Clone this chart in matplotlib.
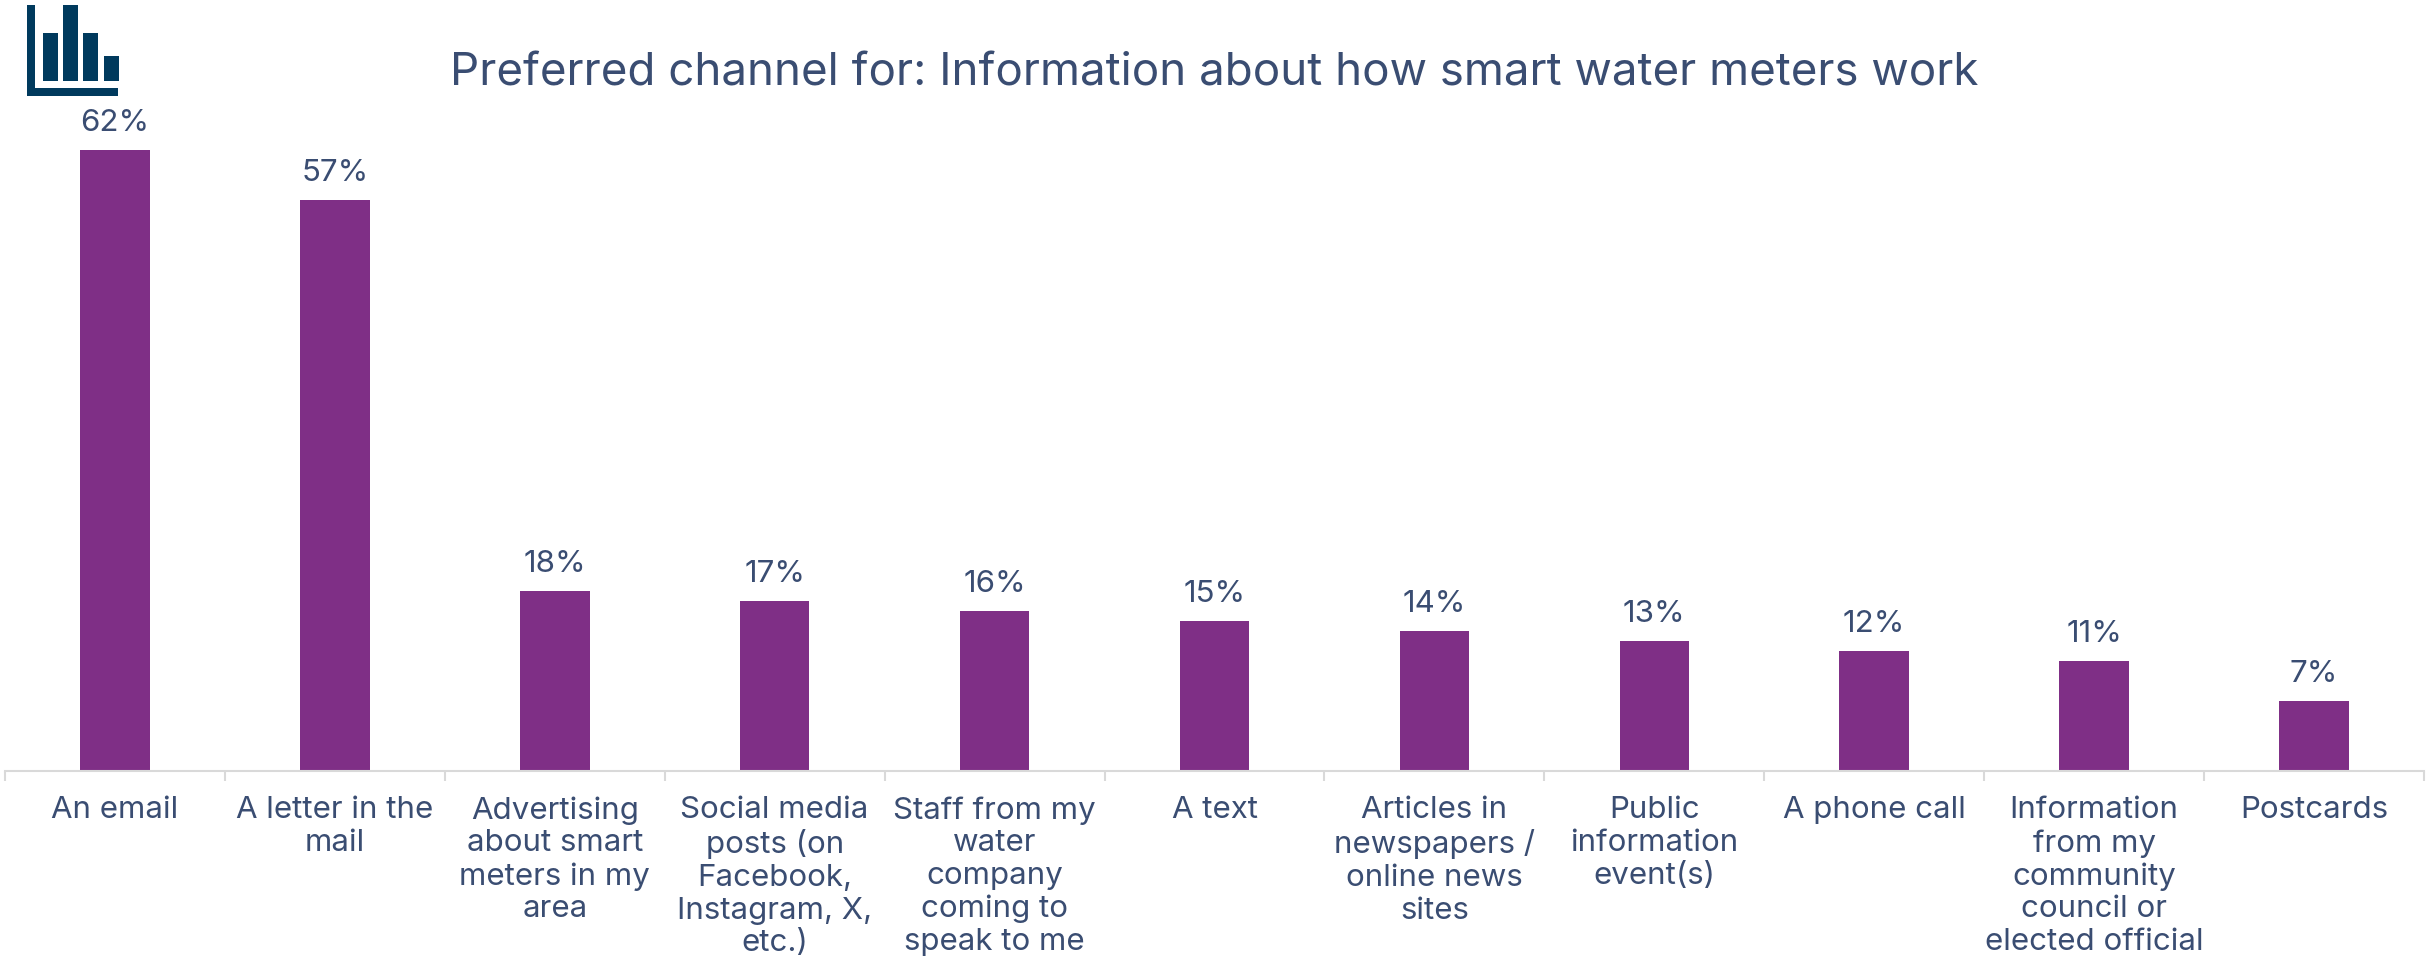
import matplotlib
matplotlib.use('Agg')
import matplotlib.pyplot as plt
import numpy as np
from matplotlib.patches import Rectangle

channels = [
    'An email',
    'A letter in the\nmail',
    'Advertising\nabout smart\nmeters in my\narea',
    'Social media\nposts (on\nFacebook,\nInstagram, X,\netc.)',
    'Staff from my\nwater\ncompany\ncoming to\nspeak to me',
    'A text',
    'Articles in\nnewspapers /\nonline news\nsites',
    'Public\ninformation\nevent(s)',
    'A phone call',
    'Information\nfrom my\ncommunity\ncouncil or\nelected official',
    'Postcards',
]
shares = [62, 57, 18, 17, 16, 15, 14, 13, 12, 11, 7]
title = 'Preferred channel for: Information about how smart water meters work'

TEXT = '#3a4d72'
BAR = '#7f2f86'
AXIS = '#d9d9d9'
LOGO = '#003a5d'
W, H = 2428, 970

plt.rcParams['font.family'] = ['Inter', 'DejaVu Sans']
fig = plt.figure(figsize=(W / 100, H / 100), dpi=100)

# axes box in pixels: x 5..2424, baseline at y=772, 10.016 px per percent
base_px = 772
top_px = 100
ax = fig.add_axes([5 / W, (H - base_px) / H, 2419 / W, (base_px - top_px) / H])
ax.set_xlim(-0.5, len(channels) - 0.5)
ax.set_ylim(0, (base_px - top_px) / 10.016)

x = np.arange(len(channels))
bars = ax.bar(x, shares, width=0.316, color=BAR)
for rect, val in zip(bars, shares):
    ax.annotate(f'{val}%', (rect.get_x() + rect.get_width() / 2, val), xytext=(0, 10),
                textcoords='offset points', ha='center', va='bottom',
                fontsize=22.5, color=TEXT)

for s in ['top', 'left', 'right']:
    ax.spines[s].set_visible(False)
ax.spines['bottom'].set_color(AXIS)
ax.spines['bottom'].set_linewidth(1.5)
ax.set_yticks([])
ax.set_xticks(x)
ax.set_xticklabels(channels, fontsize=22.5, color=TEXT, linespacing=1.21)
ax.set_xticks(np.arange(-0.5, len(channels)), minor=True)
ax.tick_params(axis='x', which='major', length=0, pad=17.5)
ax.tick_params(axis='x', which='minor', length=7, width=1.5, color=AXIS)

fig.text(0.5, 1 - 74 / H, title, ha='center', va='center', fontsize=32.9, color=TEXT)


def logo_rect(x0, y0, x1, y1):
    # pixel box, y measured from the top edge of the figure
    fig.add_artist(Rectangle((x0 / W, 1 - y1 / H), (x1 - x0) / W, (y1 - y0) / H,
                             transform=fig.transFigure, color=LOGO, lw=0))


logo_rect(27, 6, 35, 97)
logo_rect(27, 89, 118, 97)
logo_rect(43, 34, 58, 82)
logo_rect(63, 6, 78, 82)
logo_rect(83, 34, 98, 82)
logo_rect(104, 57, 119, 82)

fig.savefig('out.png', dpi=100)
